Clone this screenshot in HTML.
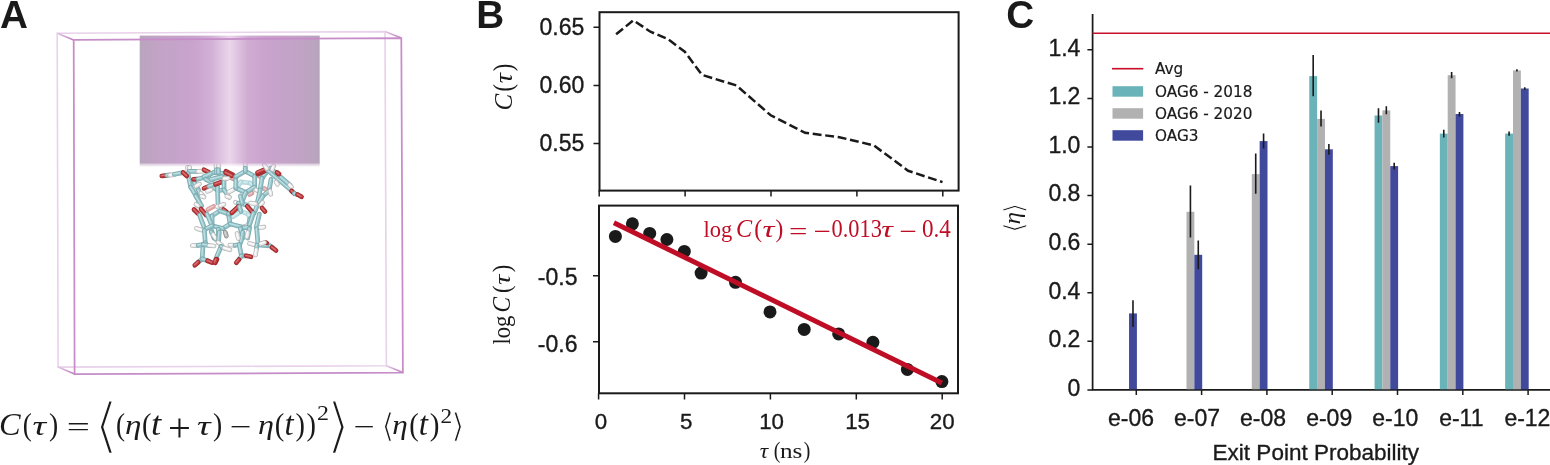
<!DOCTYPE html>
<html lang="en"><head><meta charset="utf-8"><title>Figure</title>
<style>html,body{margin:0;padding:0;background:#fff}body{width:1550px;height:465px;overflow:hidden}svg{display:block}</style>
</head><body>
<svg width="1550" height="465" viewBox="0 0 1550 465">
<defs>
<linearGradient id="cyl" x1="0" x2="1" y1="0" y2="0">
<stop offset="0" stop-color="#b9a5bd"/><stop offset="0.10" stop-color="#c2a3c6"/><stop offset="0.30" stop-color="#c9a4cd"/>
<stop offset="0.40" stop-color="#d3b1d6"/><stop offset="0.50" stop-color="#ead5eb"/><stop offset="0.60" stop-color="#d0acd3"/>
<stop offset="0.70" stop-color="#c9a3cd"/><stop offset="0.90" stop-color="#c0a3c5"/><stop offset="1" stop-color="#b7a5bc"/>
</linearGradient>
<filter id="soft" x="-5%" y="-5%" width="110%" height="110%"><feGaussianBlur stdDeviation="0.6"/></filter>
<linearGradient id="fade" x1="0" x2="0" y1="0" y2="1"><stop offset="0" stop-color="#fff" stop-opacity="0"/><stop offset="0.3" stop-color="#fff" stop-opacity="0.55"/><stop offset="1" stop-color="#fff" stop-opacity="1"/></linearGradient>
<filter id="soft2" x="-2%" y="-2%" width="104%" height="104%"><feGaussianBlur stdDeviation="0.45"/></filter>
<linearGradient id="mfade" gradientUnits="userSpaceOnUse" x1="0" x2="0" y1="163.2" y2="167"><stop offset="0" stop-color="#fff" stop-opacity="1"/><stop offset="0.3" stop-color="#fff" stop-opacity="0.5"/><stop offset="1" stop-color="#fff" stop-opacity="0"/></linearGradient>
<mask id="cylmask" maskUnits="userSpaceOnUse" x="130" y="30" width="200" height="140"><rect x="130" y="30" width="200" height="133.2" fill="#fff"/><rect x="130" y="163.2" width="200" height="3.8" fill="url(#mfade)"/></mask>
</defs>
<rect width="1550" height="465" fill="#fff"/>
<text x="0" y="27.9" font-family="Liberation Sans, Arial, Helvetica, sans-serif" font-weight="700" font-size="38.7" fill="#1a1a1a">A</text>
<text x="476.2" y="27.9" font-family="Liberation Sans, Arial, Helvetica, sans-serif" font-weight="700" font-size="38.7" fill="#1a1a1a">B</text>
<text x="1006.3" y="27.9" font-family="Liberation Sans, Arial, Helvetica, sans-serif" font-weight="700" font-size="38.7" fill="#1a1a1a">C</text>
<g id="panelA">
<g fill="none" stroke="#e8d1ea" stroke-width="1.6" filter="url(#soft2)">
<polygon points="57.2,33.3 385,31.6 386.4,365.8 58.1,367.1"/>
</g>
<g id="molecule" stroke-linecap="round" fill="none" filter="url(#soft)">
<path d="M241.0,182.0 L250.0,183.0" stroke="#a9d2d6" stroke-width="4.7"/><path d="M241.0,182.0 L250.0,183.0" stroke="#bcdfe3" stroke-width="3.2"/><path d="M241.0,182.0 L250.0,183.0" stroke="#d9eff1" stroke-width="1.3" transform="translate(-0.4,-0.4)"/>
<path d="M250.0,183.0 L254.7,187.1" stroke="#a9d2d6" stroke-width="4.7"/><path d="M250.0,183.0 L254.7,187.1" stroke="#bcdfe3" stroke-width="3.2"/><path d="M250.0,183.0 L254.7,187.1" stroke="#d9eff1" stroke-width="1.3" transform="translate(-0.4,-0.4)"/>
<path d="M241.0,182.0 L238.0,186.0" stroke="#a9d2d6" stroke-width="4.7"/><path d="M241.0,182.0 L238.0,186.0" stroke="#bcdfe3" stroke-width="3.2"/><path d="M241.0,182.0 L238.0,186.0" stroke="#d9eff1" stroke-width="1.3" transform="translate(-0.4,-0.4)"/>
<path d="M232.9,216.8 L241.0,211.4" stroke="#a9d2d6" stroke-width="4.7"/><path d="M232.9,216.8 L241.0,211.4" stroke="#bcdfe3" stroke-width="3.2"/><path d="M232.9,216.8 L241.0,211.4" stroke="#d9eff1" stroke-width="1.3" transform="translate(-0.4,-0.4)"/>
<path d="M241.0,211.4 L248.2,214.1" stroke="#a9d2d6" stroke-width="4.7"/><path d="M241.0,211.4 L248.2,214.1" stroke="#bcdfe3" stroke-width="3.2"/><path d="M241.0,211.4 L248.2,214.1" stroke="#d9eff1" stroke-width="1.3" transform="translate(-0.4,-0.4)"/>
<path d="M248.2,214.1 L250.0,218.6" stroke="#a9d2d6" stroke-width="4.7"/><path d="M248.2,214.1 L250.0,218.6" stroke="#bcdfe3" stroke-width="3.2"/><path d="M248.2,214.1 L250.0,218.6" stroke="#d9eff1" stroke-width="1.3" transform="translate(-0.4,-0.4)"/>
<path d="M228.5,176.3 L233.5,178.8" stroke="#cf9496" stroke-width="4.7"/><path d="M228.5,176.3 L233.5,178.8" stroke="#dda6a6" stroke-width="3.2"/><path d="M228.5,176.3 L233.5,178.8" stroke="#efcaca" stroke-width="1.3" transform="translate(-0.4,-0.4)"/>
<path d="M259.0,176.0 L263.0,177.5" stroke="#cf9496" stroke-width="4.7"/><path d="M259.0,176.0 L263.0,177.5" stroke="#dda6a6" stroke-width="3.2"/><path d="M259.0,176.0 L263.0,177.5" stroke="#efcaca" stroke-width="1.3" transform="translate(-0.4,-0.4)"/>
<path d="M249.5,194.5 L252.0,193.2" stroke="#cf9496" stroke-width="4.7"/><path d="M249.5,194.5 L252.0,193.2" stroke="#dda6a6" stroke-width="3.2"/><path d="M249.5,194.5 L252.0,193.2" stroke="#efcaca" stroke-width="1.3" transform="translate(-0.4,-0.4)"/>
<path d="M264.3,188.5 L266.5,190.3" stroke="#cf9496" stroke-width="4.7"/><path d="M264.3,188.5 L266.5,190.3" stroke="#dda6a6" stroke-width="3.2"/><path d="M264.3,188.5 L266.5,190.3" stroke="#efcaca" stroke-width="1.3" transform="translate(-0.4,-0.4)"/>
<path d="M208.0,209.5 L213.5,206.5" stroke="#cf9496" stroke-width="4.7"/><path d="M208.0,209.5 L213.5,206.5" stroke="#dda6a6" stroke-width="3.2"/><path d="M208.0,209.5 L213.5,206.5" stroke="#efcaca" stroke-width="1.3" transform="translate(-0.4,-0.4)"/>
<path d="M161.8,176.0 L166.8,175.3" stroke="#99292d" stroke-width="4.7"/><path d="M161.8,176.0 L166.8,175.3" stroke="#c0383c" stroke-width="3.2"/><path d="M161.8,176.0 L166.8,175.3" stroke="#d87472" stroke-width="1.3" transform="translate(-0.4,-0.4)"/>
<path d="M166.8,175.3 L169.8,174.9" stroke="#7aa9af" stroke-width="4.7"/><path d="M166.8,175.3 L169.8,174.9" stroke="#93c3c8" stroke-width="3.2"/><path d="M166.8,175.3 L169.8,174.9" stroke="#bee0e3" stroke-width="1.3" transform="translate(-0.4,-0.4)"/>
<path d="M169.8,175.2 L174.4,174.6" stroke="#b4b4b4" stroke-width="4.7"/><path d="M169.8,175.2 L174.4,174.6" stroke="#ebebeb" stroke-width="3.2"/><path d="M169.8,175.2 L174.4,174.6" stroke="#fdfdfd" stroke-width="1.3" transform="translate(-0.4,-0.4)"/>
<path d="M174.4,174.2 L183.0,172.6" stroke="#7aa9af" stroke-width="4.7"/><path d="M174.4,174.2 L183.0,172.6" stroke="#93c3c8" stroke-width="3.2"/><path d="M174.4,174.2 L183.0,172.6" stroke="#bee0e3" stroke-width="1.3" transform="translate(-0.4,-0.4)"/>
<path d="M187.6,167.3 L187.9,171.5" stroke="#b4b4b4" stroke-width="4.7"/><path d="M187.6,167.3 L187.9,171.5" stroke="#ebebeb" stroke-width="3.2"/><path d="M187.6,167.3 L187.9,171.5" stroke="#fdfdfd" stroke-width="1.3" transform="translate(-0.4,-0.4)"/>
<path d="M189.6,167.3 L189.3,171.5" stroke="#b4b4b4" stroke-width="4.7"/><path d="M189.6,167.3 L189.3,171.5" stroke="#ebebeb" stroke-width="3.2"/><path d="M189.6,167.3 L189.3,171.5" stroke="#fdfdfd" stroke-width="1.3" transform="translate(-0.4,-0.4)"/>
<path d="M189.0,171.4 L197.5,171.3" stroke="#7aa9af" stroke-width="4.7"/><path d="M189.0,171.4 L197.5,171.3" stroke="#93c3c8" stroke-width="3.2"/><path d="M189.0,171.4 L197.5,171.3" stroke="#bee0e3" stroke-width="1.3" transform="translate(-0.4,-0.4)"/>
<path d="M197.9,171.3 L203.0,171.2" stroke="#b4b4b4" stroke-width="4.7"/><path d="M197.9,171.3 L203.0,171.2" stroke="#ebebeb" stroke-width="3.2"/><path d="M197.9,171.3 L203.0,171.2" stroke="#fdfdfd" stroke-width="1.3" transform="translate(-0.4,-0.4)"/>
<path d="M204.0,169.8 L209.0,172.3" stroke="#99292d" stroke-width="4.7"/><path d="M204.0,169.8 L209.0,172.3" stroke="#c0383c" stroke-width="3.2"/><path d="M204.0,169.8 L209.0,172.3" stroke="#d87472" stroke-width="1.3" transform="translate(-0.4,-0.4)"/>
<path d="M188.0,173.6 L190.7,187.1" stroke="#7aa9af" stroke-width="4.7"/><path d="M188.0,173.6 L190.7,187.1" stroke="#93c3c8" stroke-width="3.2"/><path d="M188.0,173.6 L190.7,187.1" stroke="#bee0e3" stroke-width="1.3" transform="translate(-0.4,-0.4)"/>
<path d="M183.0,172.5 L186.8,176.0" stroke="#99292d" stroke-width="4.7"/><path d="M183.0,172.5 L186.8,176.0" stroke="#c0383c" stroke-width="3.2"/><path d="M183.0,172.5 L186.8,176.0" stroke="#d87472" stroke-width="1.3" transform="translate(-0.4,-0.4)"/>
<path d="M190.7,187.1 L195.7,195.2" stroke="#7aa9af" stroke-width="4.7"/><path d="M190.7,187.1 L195.7,195.2" stroke="#93c3c8" stroke-width="3.2"/><path d="M190.7,187.1 L195.7,195.2" stroke="#bee0e3" stroke-width="1.3" transform="translate(-0.4,-0.4)"/>
<path d="M195.7,195.2 L199.3,201.6" stroke="#7aa9af" stroke-width="4.7"/><path d="M195.7,195.2 L199.3,201.6" stroke="#93c3c8" stroke-width="3.2"/><path d="M195.7,195.2 L199.3,201.6" stroke="#bee0e3" stroke-width="1.3" transform="translate(-0.4,-0.4)"/>
<path d="M192.9,179.9 L198.4,189.8" stroke="#7aa9af" stroke-width="4.7"/><path d="M192.9,179.9 L198.4,189.8" stroke="#93c3c8" stroke-width="3.2"/><path d="M192.9,179.9 L198.4,189.8" stroke="#bee0e3" stroke-width="1.3" transform="translate(-0.4,-0.4)"/>
<path d="M198.4,189.8 L200.2,195.2" stroke="#7aa9af" stroke-width="4.7"/><path d="M198.4,189.8 L200.2,195.2" stroke="#93c3c8" stroke-width="3.2"/><path d="M198.4,189.8 L200.2,195.2" stroke="#bee0e3" stroke-width="1.3" transform="translate(-0.4,-0.4)"/>
<path d="M193.5,179.3 L197.5,179.0" stroke="#99292d" stroke-width="4.7"/><path d="M193.5,179.3 L197.5,179.0" stroke="#c0383c" stroke-width="3.2"/><path d="M193.5,179.3 L197.5,179.0" stroke="#d87472" stroke-width="1.3" transform="translate(-0.4,-0.4)"/>
<path d="M197.9,179.0 L205.6,177.2" stroke="#7aa9af" stroke-width="4.7"/><path d="M197.9,179.0 L205.6,177.2" stroke="#93c3c8" stroke-width="3.2"/><path d="M197.9,179.0 L205.6,177.2" stroke="#bee0e3" stroke-width="1.3" transform="translate(-0.4,-0.4)"/>
<path d="M205.6,177.2 L211.0,173.6" stroke="#7aa9af" stroke-width="4.7"/><path d="M205.6,177.2 L211.0,173.6" stroke="#93c3c8" stroke-width="3.2"/><path d="M205.6,177.2 L211.0,173.6" stroke="#bee0e3" stroke-width="1.3" transform="translate(-0.4,-0.4)"/>
<path d="M203.8,176.7 L213.7,172.6" stroke="#7aa9af" stroke-width="4.7"/><path d="M203.8,176.7 L213.7,172.6" stroke="#93c3c8" stroke-width="3.2"/><path d="M203.8,176.7 L213.7,172.6" stroke="#bee0e3" stroke-width="1.3" transform="translate(-0.4,-0.4)"/>
<path d="M213.7,172.6 L225.0,173.6" stroke="#7aa9af" stroke-width="4.7"/><path d="M213.7,172.6 L225.0,173.6" stroke="#93c3c8" stroke-width="3.2"/><path d="M213.7,172.6 L225.0,173.6" stroke="#bee0e3" stroke-width="1.3" transform="translate(-0.4,-0.4)"/>
<path d="M205.6,179.4 L212.8,183.0" stroke="#7aa9af" stroke-width="4.7"/><path d="M205.6,179.4 L212.8,183.0" stroke="#93c3c8" stroke-width="3.2"/><path d="M205.6,179.4 L212.8,183.0" stroke="#bee0e3" stroke-width="1.3" transform="translate(-0.4,-0.4)"/>
<path d="M211.0,179.4 L221.8,176.7" stroke="#7aa9af" stroke-width="4.7"/><path d="M211.0,179.4 L221.8,176.7" stroke="#93c3c8" stroke-width="3.2"/><path d="M211.0,179.4 L221.8,176.7" stroke="#bee0e3" stroke-width="1.3" transform="translate(-0.4,-0.4)"/>
<path d="M212.8,187.1 L218.2,190.7" stroke="#7aa9af" stroke-width="4.7"/><path d="M212.8,187.1 L218.2,190.7" stroke="#93c3c8" stroke-width="3.2"/><path d="M212.8,187.1 L218.2,190.7" stroke="#bee0e3" stroke-width="1.3" transform="translate(-0.4,-0.4)"/>
<path d="M218.2,190.7 L224.0,189.8" stroke="#7aa9af" stroke-width="4.7"/><path d="M218.2,190.7 L224.0,189.8" stroke="#93c3c8" stroke-width="3.2"/><path d="M218.2,190.7 L224.0,189.8" stroke="#bee0e3" stroke-width="1.3" transform="translate(-0.4,-0.4)"/>
<path d="M217.5,186.5 L218.0,204.0" stroke="#7aa9af" stroke-width="4.7"/><path d="M217.5,186.5 L218.0,204.0" stroke="#93c3c8" stroke-width="3.2"/><path d="M217.5,186.5 L218.0,204.0" stroke="#bee0e3" stroke-width="1.3" transform="translate(-0.4,-0.4)"/>
<path d="M204.0,188.3 L208.8,186.3" stroke="#99292d" stroke-width="4.7"/><path d="M204.0,188.3 L208.8,186.3" stroke="#c0383c" stroke-width="3.2"/><path d="M204.0,188.3 L208.8,186.3" stroke="#d87472" stroke-width="1.3" transform="translate(-0.4,-0.4)"/>
<path d="M208.8,186.3 L215.5,184.3" stroke="#7aa9af" stroke-width="4.7"/><path d="M208.8,186.3 L215.5,184.3" stroke="#93c3c8" stroke-width="3.2"/><path d="M208.8,186.3 L215.5,184.3" stroke="#bee0e3" stroke-width="1.3" transform="translate(-0.4,-0.4)"/>
<path d="M215.5,184.3 L221.0,182.2" stroke="#99292d" stroke-width="4.7"/><path d="M215.5,184.3 L221.0,182.2" stroke="#c0383c" stroke-width="3.2"/><path d="M215.5,184.3 L221.0,182.2" stroke="#d87472" stroke-width="1.3" transform="translate(-0.4,-0.4)"/>
<path d="M196.0,186.2 L199.5,184.0" stroke="#b4b4b4" stroke-width="4.7"/><path d="M196.0,186.2 L199.5,184.0" stroke="#ebebeb" stroke-width="3.2"/><path d="M196.0,186.2 L199.5,184.0" stroke="#fdfdfd" stroke-width="1.3" transform="translate(-0.4,-0.4)"/>
<path d="M207.5,191.3 L211.0,189.8" stroke="#b4b4b4" stroke-width="4.7"/><path d="M207.5,191.3 L211.0,189.8" stroke="#ebebeb" stroke-width="3.2"/><path d="M207.5,191.3 L211.0,189.8" stroke="#fdfdfd" stroke-width="1.3" transform="translate(-0.4,-0.4)"/>
<path d="M201.0,193.3 L203.3,196.0" stroke="#b4b4b4" stroke-width="4.7"/><path d="M201.0,193.3 L203.3,196.0" stroke="#ebebeb" stroke-width="3.2"/><path d="M201.0,193.3 L203.3,196.0" stroke="#fdfdfd" stroke-width="1.3" transform="translate(-0.4,-0.4)"/>
<path d="M216.0,164.3 L216.3,169.5" stroke="#b4b4b4" stroke-width="4.7"/><path d="M216.0,164.3 L216.3,169.5" stroke="#ebebeb" stroke-width="3.2"/><path d="M216.0,164.3 L216.3,169.5" stroke="#fdfdfd" stroke-width="1.3" transform="translate(-0.4,-0.4)"/>
<path d="M218.8,164.3 L218.6,169.5" stroke="#b4b4b4" stroke-width="4.7"/><path d="M218.8,164.3 L218.6,169.5" stroke="#ebebeb" stroke-width="3.2"/><path d="M218.8,164.3 L218.6,169.5" stroke="#fdfdfd" stroke-width="1.3" transform="translate(-0.4,-0.4)"/>
<path d="M216.3,169.5 L216.5,172.8" stroke="#7aa9af" stroke-width="4.7"/><path d="M216.3,169.5 L216.5,172.8" stroke="#93c3c8" stroke-width="3.2"/><path d="M216.3,169.5 L216.5,172.8" stroke="#bee0e3" stroke-width="1.3" transform="translate(-0.4,-0.4)"/>
<path d="M218.6,169.5 L218.5,172.8" stroke="#7aa9af" stroke-width="4.7"/><path d="M218.6,169.5 L218.5,172.8" stroke="#93c3c8" stroke-width="3.2"/><path d="M218.6,169.5 L218.5,172.8" stroke="#bee0e3" stroke-width="1.3" transform="translate(-0.4,-0.4)"/>
<path d="M224.0,179.4 L224.0,189.8" stroke="#7aa9af" stroke-width="4.7"/><path d="M224.0,179.4 L224.0,189.8" stroke="#93c3c8" stroke-width="3.2"/><path d="M224.0,179.4 L224.0,189.8" stroke="#bee0e3" stroke-width="1.3" transform="translate(-0.4,-0.4)"/>
<path d="M224.0,189.8 L227.6,194.8" stroke="#7aa9af" stroke-width="4.7"/><path d="M224.0,189.8 L227.6,194.8" stroke="#93c3c8" stroke-width="3.2"/><path d="M224.0,189.8 L227.6,194.8" stroke="#bee0e3" stroke-width="1.3" transform="translate(-0.4,-0.4)"/>
<path d="M226.0,171.3 L233.0,174.8" stroke="#99292d" stroke-width="4.7"/><path d="M226.0,171.3 L233.0,174.8" stroke="#c0383c" stroke-width="3.2"/><path d="M226.0,171.3 L233.0,174.8" stroke="#d87472" stroke-width="1.3" transform="translate(-0.4,-0.4)"/>
<path d="M225.5,172.6 L232.0,175.8" stroke="#99292d" stroke-width="4.7"/><path d="M225.5,172.6 L232.0,175.8" stroke="#c0383c" stroke-width="3.2"/><path d="M225.5,172.6 L232.0,175.8" stroke="#d87472" stroke-width="1.3" transform="translate(-0.4,-0.4)"/>
<path d="M224.0,178.7 L228.0,178.3" stroke="#b4b4b4" stroke-width="4.7"/><path d="M224.0,178.7 L228.0,178.3" stroke="#ebebeb" stroke-width="3.2"/><path d="M224.0,178.7 L228.0,178.3" stroke="#fdfdfd" stroke-width="1.3" transform="translate(-0.4,-0.4)"/>
<path d="M227.5,195.0 L229.0,197.2" stroke="#b4b4b4" stroke-width="4.7"/><path d="M227.5,195.0 L229.0,197.2" stroke="#ebebeb" stroke-width="3.2"/><path d="M227.5,195.0 L229.0,197.2" stroke="#fdfdfd" stroke-width="1.3" transform="translate(-0.4,-0.4)"/>
<path d="M229.0,191.8 L233.5,189.6" stroke="#b4b4b4" stroke-width="4.7"/><path d="M229.0,191.8 L233.5,189.6" stroke="#ebebeb" stroke-width="3.2"/><path d="M229.0,191.8 L233.5,189.6" stroke="#fdfdfd" stroke-width="1.3" transform="translate(-0.4,-0.4)"/>
<path d="M245.3,171.3 L254.7,176.3" stroke="#7aa9af" stroke-width="4.7"/><path d="M245.3,171.3 L254.7,176.3" stroke="#93c3c8" stroke-width="3.2"/><path d="M245.3,171.3 L254.7,176.3" stroke="#bee0e3" stroke-width="1.3" transform="translate(-0.4,-0.4)"/>
<path d="M254.7,176.3 L254.7,187.1" stroke="#7aa9af" stroke-width="4.7"/><path d="M254.7,176.3 L254.7,187.1" stroke="#93c3c8" stroke-width="3.2"/><path d="M254.7,176.3 L254.7,187.1" stroke="#bee0e3" stroke-width="1.3" transform="translate(-0.4,-0.4)"/>
<path d="M254.7,187.1 L245.7,192.5" stroke="#7aa9af" stroke-width="4.7"/><path d="M254.7,187.1 L245.7,192.5" stroke="#93c3c8" stroke-width="3.2"/><path d="M254.7,187.1 L245.7,192.5" stroke="#bee0e3" stroke-width="1.3" transform="translate(-0.4,-0.4)"/>
<path d="M245.7,192.5 L235.8,188.0" stroke="#7aa9af" stroke-width="4.7"/><path d="M245.7,192.5 L235.8,188.0" stroke="#93c3c8" stroke-width="3.2"/><path d="M245.7,192.5 L235.8,188.0" stroke="#bee0e3" stroke-width="1.3" transform="translate(-0.4,-0.4)"/>
<path d="M235.8,188.0 L235.8,176.7" stroke="#7aa9af" stroke-width="4.7"/><path d="M235.8,188.0 L235.8,176.7" stroke="#93c3c8" stroke-width="3.2"/><path d="M235.8,188.0 L235.8,176.7" stroke="#bee0e3" stroke-width="1.3" transform="translate(-0.4,-0.4)"/>
<path d="M235.8,176.7 L245.3,171.3" stroke="#7aa9af" stroke-width="4.7"/><path d="M235.8,176.7 L245.3,171.3" stroke="#93c3c8" stroke-width="3.2"/><path d="M235.8,176.7 L245.3,171.3" stroke="#bee0e3" stroke-width="1.3" transform="translate(-0.4,-0.4)"/>
<path d="M245.3,163.8 L245.3,168.0" stroke="#b4b4b4" stroke-width="4.7"/><path d="M245.3,163.8 L245.3,168.0" stroke="#ebebeb" stroke-width="3.2"/><path d="M245.3,163.8 L245.3,168.0" stroke="#fdfdfd" stroke-width="1.3" transform="translate(-0.4,-0.4)"/>
<path d="M245.3,168.0 L245.3,171.3" stroke="#7aa9af" stroke-width="4.7"/><path d="M245.3,168.0 L245.3,171.3" stroke="#93c3c8" stroke-width="3.2"/><path d="M245.3,168.0 L245.3,171.3" stroke="#bee0e3" stroke-width="1.3" transform="translate(-0.4,-0.4)"/>
<path d="M245.7,192.5 L242.1,202.0" stroke="#7aa9af" stroke-width="4.7"/><path d="M245.7,192.5 L242.1,202.0" stroke="#93c3c8" stroke-width="3.2"/><path d="M245.7,192.5 L242.1,202.0" stroke="#bee0e3" stroke-width="1.3" transform="translate(-0.4,-0.4)"/>
<path d="M256.0,189.8 L259.5,191.6" stroke="#b4b4b4" stroke-width="4.7"/><path d="M256.0,189.8 L259.5,191.6" stroke="#ebebeb" stroke-width="3.2"/><path d="M256.0,189.8 L259.5,191.6" stroke="#fdfdfd" stroke-width="1.3" transform="translate(-0.4,-0.4)"/>
<path d="M262.0,178.1 L267.0,171.7" stroke="#7aa9af" stroke-width="4.7"/><path d="M262.0,178.1 L267.0,171.7" stroke="#93c3c8" stroke-width="3.2"/><path d="M262.0,178.1 L267.0,171.7" stroke="#bee0e3" stroke-width="1.3" transform="translate(-0.4,-0.4)"/>
<path d="M262.0,178.1 L260.2,189.8" stroke="#7aa9af" stroke-width="4.7"/><path d="M262.0,178.1 L260.2,189.8" stroke="#93c3c8" stroke-width="3.2"/><path d="M262.0,178.1 L260.2,189.8" stroke="#bee0e3" stroke-width="1.3" transform="translate(-0.4,-0.4)"/>
<path d="M260.2,189.8 L257.5,202.0" stroke="#7aa9af" stroke-width="4.7"/><path d="M260.2,189.8 L257.5,202.0" stroke="#93c3c8" stroke-width="3.2"/><path d="M260.2,189.8 L257.5,202.0" stroke="#bee0e3" stroke-width="1.3" transform="translate(-0.4,-0.4)"/>
<path d="M271.0,179.4 L269.2,189.8" stroke="#7aa9af" stroke-width="4.7"/><path d="M271.0,179.4 L269.2,189.8" stroke="#93c3c8" stroke-width="3.2"/><path d="M271.0,179.4 L269.2,189.8" stroke="#bee0e3" stroke-width="1.3" transform="translate(-0.4,-0.4)"/>
<path d="M263.8,195.2 L269.2,190.7" stroke="#7aa9af" stroke-width="4.7"/><path d="M263.8,195.2 L269.2,190.7" stroke="#93c3c8" stroke-width="3.2"/><path d="M263.8,195.2 L269.2,190.7" stroke="#bee0e3" stroke-width="1.3" transform="translate(-0.4,-0.4)"/>
<path d="M270.0,191.0 L270.8,194.3" stroke="#b4b4b4" stroke-width="4.7"/><path d="M270.0,191.0 L270.8,194.3" stroke="#ebebeb" stroke-width="3.2"/><path d="M270.0,191.0 L270.8,194.3" stroke="#fdfdfd" stroke-width="1.3" transform="translate(-0.4,-0.4)"/>
<path d="M258.0,174.0 L265.5,170.5" stroke="#99292d" stroke-width="4.7"/><path d="M258.0,174.0 L265.5,170.5" stroke="#c0383c" stroke-width="3.2"/><path d="M258.0,174.0 L265.5,170.5" stroke="#d87472" stroke-width="1.3" transform="translate(-0.4,-0.4)"/>
<path d="M257.5,172.6 L264.5,169.6" stroke="#99292d" stroke-width="4.7"/><path d="M257.5,172.6 L264.5,169.6" stroke="#c0383c" stroke-width="3.2"/><path d="M257.5,172.6 L264.5,169.6" stroke="#d87472" stroke-width="1.3" transform="translate(-0.4,-0.4)"/>
<path d="M267.0,169.8 L292.0,191.0" stroke="#7aa9af" stroke-width="4.7"/><path d="M267.0,169.8 L292.0,191.0" stroke="#93c3c8" stroke-width="3.2"/><path d="M267.0,169.8 L292.0,191.0" stroke="#bee0e3" stroke-width="1.3" transform="translate(-0.4,-0.4)"/>
<path d="M270.5,168.3 L290.2,185.3" stroke="#7aa9af" stroke-width="4.7"/><path d="M270.5,168.3 L290.2,185.3" stroke="#93c3c8" stroke-width="3.2"/><path d="M270.5,168.3 L290.2,185.3" stroke="#bee0e3" stroke-width="1.3" transform="translate(-0.4,-0.4)"/>
<path d="M277.0,172.5 L279.0,174.0" stroke="#99292d" stroke-width="4.7"/><path d="M277.0,172.5 L279.0,174.0" stroke="#c0383c" stroke-width="3.2"/><path d="M277.0,172.5 L279.0,174.0" stroke="#d87472" stroke-width="1.3" transform="translate(-0.4,-0.4)"/>
<path d="M276.0,182.0 L277.5,184.3" stroke="#b4b4b4" stroke-width="4.7"/><path d="M276.0,182.0 L277.5,184.3" stroke="#ebebeb" stroke-width="3.2"/><path d="M276.0,182.0 L277.5,184.3" stroke="#fdfdfd" stroke-width="1.3" transform="translate(-0.4,-0.4)"/>
<path d="M289.5,184.8 L291.5,186.8" stroke="#b4b4b4" stroke-width="4.7"/><path d="M289.5,184.8 L291.5,186.8" stroke="#ebebeb" stroke-width="3.2"/><path d="M289.5,184.8 L291.5,186.8" stroke="#fdfdfd" stroke-width="1.3" transform="translate(-0.4,-0.4)"/>
<path d="M291.5,191.0 L294.3,193.5" stroke="#99292d" stroke-width="4.7"/><path d="M291.5,191.0 L294.3,193.5" stroke="#c0383c" stroke-width="3.2"/><path d="M291.5,191.0 L294.3,193.5" stroke="#d87472" stroke-width="1.3" transform="translate(-0.4,-0.4)"/>
<path d="M294.3,193.5 L297.0,194.6" stroke="#7aa9af" stroke-width="4.7"/><path d="M294.3,193.5 L297.0,194.6" stroke="#93c3c8" stroke-width="3.2"/><path d="M294.3,193.5 L297.0,194.6" stroke="#bee0e3" stroke-width="1.3" transform="translate(-0.4,-0.4)"/>
<path d="M297.5,194.5 L301.5,196.8" stroke="#99292d" stroke-width="4.7"/><path d="M297.5,194.5 L301.5,196.8" stroke="#c0383c" stroke-width="3.2"/><path d="M297.5,194.5 L301.5,196.8" stroke="#d87472" stroke-width="1.3" transform="translate(-0.4,-0.4)"/>
<path d="M264.3,165.0 L266.8,168.5" stroke="#b4b4b4" stroke-width="4.7"/><path d="M264.3,165.0 L266.8,168.5" stroke="#ebebeb" stroke-width="3.2"/><path d="M264.3,165.0 L266.8,168.5" stroke="#fdfdfd" stroke-width="1.3" transform="translate(-0.4,-0.4)"/>
<path d="M273.6,165.8 L272.3,169.5" stroke="#b4b4b4" stroke-width="4.7"/><path d="M273.6,165.8 L272.3,169.5" stroke="#ebebeb" stroke-width="3.2"/><path d="M273.6,165.8 L272.3,169.5" stroke="#fdfdfd" stroke-width="1.3" transform="translate(-0.4,-0.4)"/>
<path d="M195.8,196.0 L201.7,205.9" stroke="#7aa9af" stroke-width="4.7"/><path d="M195.8,196.0 L201.7,205.9" stroke="#93c3c8" stroke-width="3.2"/><path d="M195.8,196.0 L201.7,205.9" stroke="#bee0e3" stroke-width="1.3" transform="translate(-0.4,-0.4)"/>
<path d="M196.0,204.3 L198.0,205.8" stroke="#b4b4b4" stroke-width="4.7"/><path d="M196.0,204.3 L198.0,205.8" stroke="#ebebeb" stroke-width="3.2"/><path d="M196.0,204.3 L198.0,205.8" stroke="#fdfdfd" stroke-width="1.3" transform="translate(-0.4,-0.4)"/>
<path d="M217.0,206.5 L220.5,205.5" stroke="#b4b4b4" stroke-width="4.7"/><path d="M217.0,206.5 L220.5,205.5" stroke="#ebebeb" stroke-width="3.2"/><path d="M217.0,206.5 L220.5,205.5" stroke="#fdfdfd" stroke-width="1.3" transform="translate(-0.4,-0.4)"/>
<path d="M220.5,205.5 L224.0,204.3" stroke="#b4b4b4" stroke-width="4.7"/><path d="M220.5,205.5 L224.0,204.3" stroke="#ebebeb" stroke-width="3.2"/><path d="M220.5,205.5 L224.0,204.3" stroke="#fdfdfd" stroke-width="1.3" transform="translate(-0.4,-0.4)"/>
<path d="M194.0,209.5 L198.0,213.5" stroke="#99292d" stroke-width="4.7"/><path d="M194.0,209.5 L198.0,213.5" stroke="#c0383c" stroke-width="3.2"/><path d="M194.0,209.5 L198.0,213.5" stroke="#d87472" stroke-width="1.3" transform="translate(-0.4,-0.4)"/>
<path d="M201.0,209.0 L206.0,215.0" stroke="#99292d" stroke-width="4.7"/><path d="M201.0,209.0 L206.0,215.0" stroke="#c0383c" stroke-width="3.2"/><path d="M201.0,209.0 L206.0,215.0" stroke="#d87472" stroke-width="1.3" transform="translate(-0.4,-0.4)"/>
<path d="M223.5,209.5 L226.8,212.0" stroke="#99292d" stroke-width="4.7"/><path d="M223.5,209.5 L226.8,212.0" stroke="#c0383c" stroke-width="3.2"/><path d="M223.5,209.5 L226.8,212.0" stroke="#d87472" stroke-width="1.3" transform="translate(-0.4,-0.4)"/>
<path d="M235.5,202.3 L238.0,203.5" stroke="#b4b4b4" stroke-width="4.7"/><path d="M235.5,202.3 L238.0,203.5" stroke="#ebebeb" stroke-width="3.2"/><path d="M235.5,202.3 L238.0,203.5" stroke="#fdfdfd" stroke-width="1.3" transform="translate(-0.4,-0.4)"/>
<path d="M238.3,203.2 L247.3,205.0" stroke="#7aa9af" stroke-width="4.7"/><path d="M238.3,203.2 L247.3,205.0" stroke="#93c3c8" stroke-width="3.2"/><path d="M238.3,203.2 L247.3,205.0" stroke="#bee0e3" stroke-width="1.3" transform="translate(-0.4,-0.4)"/>
<path d="M240.4,196.0 L242.2,203.2" stroke="#7aa9af" stroke-width="4.7"/><path d="M240.4,196.0 L242.2,203.2" stroke="#93c3c8" stroke-width="3.2"/><path d="M240.4,196.0 L242.2,203.2" stroke="#bee0e3" stroke-width="1.3" transform="translate(-0.4,-0.4)"/>
<path d="M263.0,196.0 L257.6,205.0" stroke="#7aa9af" stroke-width="4.7"/><path d="M263.0,196.0 L257.6,205.0" stroke="#93c3c8" stroke-width="3.2"/><path d="M263.0,196.0 L257.6,205.0" stroke="#bee0e3" stroke-width="1.3" transform="translate(-0.4,-0.4)"/>
<path d="M257.6,205.0 L254.0,213.2" stroke="#7aa9af" stroke-width="4.7"/><path d="M257.6,205.0 L254.0,213.2" stroke="#93c3c8" stroke-width="3.2"/><path d="M257.6,205.0 L254.0,213.2" stroke="#bee0e3" stroke-width="1.3" transform="translate(-0.4,-0.4)"/>
<path d="M247.3,206.2 L252.5,212.3" stroke="#99292d" stroke-width="4.7"/><path d="M247.3,206.2 L252.5,212.3" stroke="#c0383c" stroke-width="3.2"/><path d="M247.3,206.2 L252.5,212.3" stroke="#d87472" stroke-width="1.3" transform="translate(-0.4,-0.4)"/>
<path d="M250.5,203.0 L255.5,203.8" stroke="#b4b4b4" stroke-width="4.7"/><path d="M250.5,203.0 L255.5,203.8" stroke="#ebebeb" stroke-width="3.2"/><path d="M250.5,203.0 L255.5,203.8" stroke="#fdfdfd" stroke-width="1.3" transform="translate(-0.4,-0.4)"/>
<path d="M260.7,205.0 L262.6,202.5" stroke="#b4b4b4" stroke-width="4.7"/><path d="M260.7,205.0 L262.6,202.5" stroke="#ebebeb" stroke-width="3.2"/><path d="M260.7,205.0 L262.6,202.5" stroke="#fdfdfd" stroke-width="1.3" transform="translate(-0.4,-0.4)"/>
<path d="M262.0,208.0 L265.0,211.5" stroke="#99292d" stroke-width="4.7"/><path d="M262.0,208.0 L265.0,211.5" stroke="#c0383c" stroke-width="3.2"/><path d="M262.0,208.0 L265.0,211.5" stroke="#d87472" stroke-width="1.3" transform="translate(-0.4,-0.4)"/>
<path d="M226.8,196.5 L229.5,197.3" stroke="#b4b4b4" stroke-width="4.7"/><path d="M226.8,196.5 L229.5,197.3" stroke="#ebebeb" stroke-width="3.2"/><path d="M226.8,196.5 L229.5,197.3" stroke="#fdfdfd" stroke-width="1.3" transform="translate(-0.4,-0.4)"/>
<path d="M201.5,196.3 L204.0,197.0" stroke="#b4b4b4" stroke-width="4.7"/><path d="M201.5,196.3 L204.0,197.0" stroke="#ebebeb" stroke-width="3.2"/><path d="M201.5,196.3 L204.0,197.0" stroke="#fdfdfd" stroke-width="1.3" transform="translate(-0.4,-0.4)"/>
<path d="M212.1,215.9 L219.8,210.9" stroke="#7aa9af" stroke-width="4.7"/><path d="M212.1,215.9 L219.8,210.9" stroke="#93c3c8" stroke-width="3.2"/><path d="M212.1,215.9 L219.8,210.9" stroke="#bee0e3" stroke-width="1.3" transform="translate(-0.4,-0.4)"/>
<path d="M219.8,210.9 L228.4,214.1" stroke="#7aa9af" stroke-width="4.7"/><path d="M219.8,210.9 L228.4,214.1" stroke="#93c3c8" stroke-width="3.2"/><path d="M219.8,210.9 L228.4,214.1" stroke="#bee0e3" stroke-width="1.3" transform="translate(-0.4,-0.4)"/>
<path d="M228.4,214.1 L230.2,224.0" stroke="#7aa9af" stroke-width="4.7"/><path d="M228.4,214.1 L230.2,224.0" stroke="#93c3c8" stroke-width="3.2"/><path d="M228.4,214.1 L230.2,224.0" stroke="#bee0e3" stroke-width="1.3" transform="translate(-0.4,-0.4)"/>
<path d="M230.2,224.0 L222.9,228.5" stroke="#7aa9af" stroke-width="4.7"/><path d="M230.2,224.0 L222.9,228.5" stroke="#93c3c8" stroke-width="3.2"/><path d="M230.2,224.0 L222.9,228.5" stroke="#bee0e3" stroke-width="1.3" transform="translate(-0.4,-0.4)"/>
<path d="M222.9,228.5 L212.1,225.8" stroke="#7aa9af" stroke-width="4.7"/><path d="M222.9,228.5 L212.1,225.8" stroke="#93c3c8" stroke-width="3.2"/><path d="M222.9,228.5 L212.1,225.8" stroke="#bee0e3" stroke-width="1.3" transform="translate(-0.4,-0.4)"/>
<path d="M212.1,225.8 L212.1,215.9" stroke="#7aa9af" stroke-width="4.7"/><path d="M212.1,225.8 L212.1,215.9" stroke="#93c3c8" stroke-width="3.2"/><path d="M212.1,225.8 L212.1,215.9" stroke="#bee0e3" stroke-width="1.3" transform="translate(-0.4,-0.4)"/>
<path d="M228.4,214.1 L231.8,212.8" stroke="#7aa9af" stroke-width="4.7"/><path d="M228.4,214.1 L231.8,212.8" stroke="#93c3c8" stroke-width="3.2"/><path d="M228.4,214.1 L231.8,212.8" stroke="#bee0e3" stroke-width="1.3" transform="translate(-0.4,-0.4)"/>
<path d="M231.8,212.8 L238.8,206.3" stroke="#99292d" stroke-width="4.7"/><path d="M231.8,212.8 L238.8,206.3" stroke="#c0383c" stroke-width="3.2"/><path d="M231.8,212.8 L238.8,206.3" stroke="#d87472" stroke-width="1.3" transform="translate(-0.4,-0.4)"/>
<path d="M241.0,211.4 L239.5,206.5" stroke="#7aa9af" stroke-width="4.7"/><path d="M241.0,211.4 L239.5,206.5" stroke="#93c3c8" stroke-width="3.2"/><path d="M241.0,211.4 L239.5,206.5" stroke="#bee0e3" stroke-width="1.3" transform="translate(-0.4,-0.4)"/>
<path d="M230.2,224.0 L242.8,227.2" stroke="#7aa9af" stroke-width="4.7"/><path d="M230.2,224.0 L242.8,227.2" stroke="#93c3c8" stroke-width="3.2"/><path d="M230.2,224.0 L242.8,227.2" stroke="#bee0e3" stroke-width="1.3" transform="translate(-0.4,-0.4)"/>
<path d="M242.8,227.2 L248.2,226.7" stroke="#7aa9af" stroke-width="4.7"/><path d="M242.8,227.2 L248.2,226.7" stroke="#93c3c8" stroke-width="3.2"/><path d="M242.8,227.2 L248.2,226.7" stroke="#bee0e3" stroke-width="1.3" transform="translate(-0.4,-0.4)"/>
<path d="M250.0,218.6 L248.2,226.7" stroke="#7aa9af" stroke-width="4.7"/><path d="M250.0,218.6 L248.2,226.7" stroke="#93c3c8" stroke-width="3.2"/><path d="M250.0,218.6 L248.2,226.7" stroke="#bee0e3" stroke-width="1.3" transform="translate(-0.4,-0.4)"/>
<path d="M243.0,227.5 L246.5,226.0" stroke="#b4b4b4" stroke-width="4.7"/><path d="M243.0,227.5 L246.5,226.0" stroke="#ebebeb" stroke-width="3.2"/><path d="M243.0,227.5 L246.5,226.0" stroke="#fdfdfd" stroke-width="1.3" transform="translate(-0.4,-0.4)"/>
<path d="M199.5,215.0 L204.9,229.4" stroke="#7aa9af" stroke-width="4.7"/><path d="M199.5,215.0 L204.9,229.4" stroke="#93c3c8" stroke-width="3.2"/><path d="M199.5,215.0 L204.9,229.4" stroke="#bee0e3" stroke-width="1.3" transform="translate(-0.4,-0.4)"/>
<path d="M207.1,214.1 L212.1,225.8" stroke="#7aa9af" stroke-width="4.7"/><path d="M207.1,214.1 L212.1,225.8" stroke="#93c3c8" stroke-width="3.2"/><path d="M207.1,214.1 L212.1,225.8" stroke="#bee0e3" stroke-width="1.3" transform="translate(-0.4,-0.4)"/>
<path d="M204.9,229.4 L212.1,225.8" stroke="#7aa9af" stroke-width="4.7"/><path d="M204.9,229.4 L212.1,225.8" stroke="#93c3c8" stroke-width="3.2"/><path d="M204.9,229.4 L212.1,225.8" stroke="#bee0e3" stroke-width="1.3" transform="translate(-0.4,-0.4)"/>
<path d="M196.5,228.5 L201.5,230.0" stroke="#b4b4b4" stroke-width="4.7"/><path d="M196.5,228.5 L201.5,230.0" stroke="#ebebeb" stroke-width="3.2"/><path d="M196.5,228.5 L201.5,230.0" stroke="#fdfdfd" stroke-width="1.3" transform="translate(-0.4,-0.4)"/>
<path d="M211.6,230.3 L213.9,238.0" stroke="#7aa9af" stroke-width="4.7"/><path d="M211.6,230.3 L213.9,238.0" stroke="#93c3c8" stroke-width="3.2"/><path d="M211.6,230.3 L213.9,238.0" stroke="#bee0e3" stroke-width="1.3" transform="translate(-0.4,-0.4)"/>
<path d="M218.4,229.0 L218.4,238.0" stroke="#7aa9af" stroke-width="4.7"/><path d="M218.4,229.0 L218.4,238.0" stroke="#93c3c8" stroke-width="3.2"/><path d="M218.4,229.0 L218.4,238.0" stroke="#bee0e3" stroke-width="1.3" transform="translate(-0.4,-0.4)"/>
<path d="M253.5,213.2 L248.6,227.6" stroke="#7aa9af" stroke-width="4.7"/><path d="M253.5,213.2 L248.6,227.6" stroke="#93c3c8" stroke-width="3.2"/><path d="M253.5,213.2 L248.6,227.6" stroke="#bee0e3" stroke-width="1.3" transform="translate(-0.4,-0.4)"/>
<path d="M259.4,214.1 L256.2,227.6" stroke="#7aa9af" stroke-width="4.7"/><path d="M259.4,214.1 L256.2,227.6" stroke="#93c3c8" stroke-width="3.2"/><path d="M259.4,214.1 L256.2,227.6" stroke="#bee0e3" stroke-width="1.3" transform="translate(-0.4,-0.4)"/>
<path d="M244.0,227.6 L249.5,227.6" stroke="#7aa9af" stroke-width="4.7"/><path d="M244.0,227.6 L249.5,227.6" stroke="#93c3c8" stroke-width="3.2"/><path d="M244.0,227.6 L249.5,227.6" stroke="#bee0e3" stroke-width="1.3" transform="translate(-0.4,-0.4)"/>
<path d="M259.5,227.8 L264.0,227.0" stroke="#b4b4b4" stroke-width="4.7"/><path d="M259.5,227.8 L264.0,227.0" stroke="#ebebeb" stroke-width="3.2"/><path d="M259.5,227.8 L264.0,227.0" stroke="#fdfdfd" stroke-width="1.3" transform="translate(-0.4,-0.4)"/>
<path d="M240.4,228.5 L243.1,238.0" stroke="#7aa9af" stroke-width="4.7"/><path d="M240.4,228.5 L243.1,238.0" stroke="#93c3c8" stroke-width="3.2"/><path d="M240.4,228.5 L243.1,238.0" stroke="#bee0e3" stroke-width="1.3" transform="translate(-0.4,-0.4)"/>
<path d="M249.5,228.5 L247.6,238.0" stroke="#7aa9af" stroke-width="4.7"/><path d="M249.5,228.5 L247.6,238.0" stroke="#93c3c8" stroke-width="3.2"/><path d="M249.5,228.5 L247.6,238.0" stroke="#bee0e3" stroke-width="1.3" transform="translate(-0.4,-0.4)"/>
<path d="M204.4,230.3 L205.3,242.8" stroke="#7aa9af" stroke-width="4.7"/><path d="M204.4,230.3 L205.3,242.8" stroke="#93c3c8" stroke-width="3.2"/><path d="M204.4,230.3 L205.3,242.8" stroke="#bee0e3" stroke-width="1.3" transform="translate(-0.4,-0.4)"/>
<path d="M205.3,242.8 L203.1,244.6" stroke="#7aa9af" stroke-width="4.7"/><path d="M205.3,242.8 L203.1,244.6" stroke="#93c3c8" stroke-width="3.2"/><path d="M205.3,242.8 L203.1,244.6" stroke="#bee0e3" stroke-width="1.3" transform="translate(-0.4,-0.4)"/>
<path d="M203.1,244.6 L202.2,259.1" stroke="#7aa9af" stroke-width="4.7"/><path d="M203.1,244.6 L202.2,259.1" stroke="#93c3c8" stroke-width="3.2"/><path d="M203.1,244.6 L202.2,259.1" stroke="#bee0e3" stroke-width="1.3" transform="translate(-0.4,-0.4)"/>
<path d="M202.2,259.1 L198.2,262.2" stroke="#7aa9af" stroke-width="4.7"/><path d="M202.2,259.1 L198.2,262.2" stroke="#93c3c8" stroke-width="3.2"/><path d="M202.2,259.1 L198.2,262.2" stroke="#bee0e3" stroke-width="1.3" transform="translate(-0.4,-0.4)"/>
<path d="M198.2,262.2 L194.8,265.3" stroke="#99292d" stroke-width="4.7"/><path d="M198.2,262.2 L194.8,265.3" stroke="#c0383c" stroke-width="3.2"/><path d="M198.2,262.2 L194.8,265.3" stroke="#d87472" stroke-width="1.3" transform="translate(-0.4,-0.4)"/>
<path d="M202.2,259.1 L207.5,260.8" stroke="#7aa9af" stroke-width="4.7"/><path d="M202.2,259.1 L207.5,260.8" stroke="#93c3c8" stroke-width="3.2"/><path d="M202.2,259.1 L207.5,260.8" stroke="#bee0e3" stroke-width="1.3" transform="translate(-0.4,-0.4)"/>
<path d="M207.5,260.8 L212.0,262.6" stroke="#99292d" stroke-width="4.7"/><path d="M207.5,260.8 L212.0,262.6" stroke="#c0383c" stroke-width="3.2"/><path d="M207.5,260.8 L212.0,262.6" stroke="#d87472" stroke-width="1.3" transform="translate(-0.4,-0.4)"/>
<path d="M192.3,245.5 L198.0,245.3" stroke="#b4b4b4" stroke-width="4.7"/><path d="M192.3,245.5 L198.0,245.3" stroke="#ebebeb" stroke-width="3.2"/><path d="M192.3,245.5 L198.0,245.3" stroke="#fdfdfd" stroke-width="1.3" transform="translate(-0.4,-0.4)"/>
<path d="M198.0,245.3 L203.0,244.6" stroke="#7aa9af" stroke-width="4.7"/><path d="M198.0,245.3 L203.0,244.6" stroke="#93c3c8" stroke-width="3.2"/><path d="M198.0,245.3 L203.0,244.6" stroke="#bee0e3" stroke-width="1.3" transform="translate(-0.4,-0.4)"/>
<path d="M203.1,244.6 L209.0,245.5" stroke="#7aa9af" stroke-width="4.7"/><path d="M203.1,244.6 L209.0,245.5" stroke="#93c3c8" stroke-width="3.2"/><path d="M203.1,244.6 L209.0,245.5" stroke="#bee0e3" stroke-width="1.3" transform="translate(-0.4,-0.4)"/>
<path d="M209.0,245.5 L214.0,246.0" stroke="#b4b4b4" stroke-width="4.7"/><path d="M209.0,245.5 L214.0,246.0" stroke="#ebebeb" stroke-width="3.2"/><path d="M209.0,245.5 L214.0,246.0" stroke="#fdfdfd" stroke-width="1.3" transform="translate(-0.4,-0.4)"/>
<path d="M211.2,232.0 L215.7,239.2" stroke="#7aa9af" stroke-width="4.7"/><path d="M211.2,232.0 L215.7,239.2" stroke="#93c3c8" stroke-width="3.2"/><path d="M211.2,232.0 L215.7,239.2" stroke="#bee0e3" stroke-width="1.3" transform="translate(-0.4,-0.4)"/>
<path d="M213.0,234.5 L215.5,238.3" stroke="#b4b4b4" stroke-width="4.7"/><path d="M213.0,234.5 L215.5,238.3" stroke="#ebebeb" stroke-width="3.2"/><path d="M213.0,234.5 L215.5,238.3" stroke="#fdfdfd" stroke-width="1.3" transform="translate(-0.4,-0.4)"/>
<path d="M219.3,232.0 L218.4,242.8" stroke="#7aa9af" stroke-width="4.7"/><path d="M219.3,232.0 L218.4,242.8" stroke="#93c3c8" stroke-width="3.2"/><path d="M219.3,232.0 L218.4,242.8" stroke="#bee0e3" stroke-width="1.3" transform="translate(-0.4,-0.4)"/>
<path d="M218.0,242.3 L222.0,245.3" stroke="#b4b4b4" stroke-width="4.7"/><path d="M218.0,242.3 L222.0,245.3" stroke="#ebebeb" stroke-width="3.2"/><path d="M218.0,242.3 L222.0,245.3" stroke="#fdfdfd" stroke-width="1.3" transform="translate(-0.4,-0.4)"/>
<path d="M221.1,246.5 L215.7,259.1" stroke="#7aa9af" stroke-width="4.7"/><path d="M221.1,246.5 L215.7,259.1" stroke="#93c3c8" stroke-width="3.2"/><path d="M221.1,246.5 L215.7,259.1" stroke="#bee0e3" stroke-width="1.3" transform="translate(-0.4,-0.4)"/>
<path d="M217.0,259.3 L215.3,262.8" stroke="#99292d" stroke-width="4.7"/><path d="M217.0,259.3 L215.3,262.8" stroke="#c0383c" stroke-width="3.2"/><path d="M217.0,259.3 L215.3,262.8" stroke="#d87472" stroke-width="1.3" transform="translate(-0.4,-0.4)"/>
<path d="M216.3,259.3 L214.8,262.5" stroke="#99292d" stroke-width="4.7"/><path d="M216.3,259.3 L214.8,262.5" stroke="#c0383c" stroke-width="3.2"/><path d="M216.3,259.3 L214.8,262.5" stroke="#d87472" stroke-width="1.3" transform="translate(-0.4,-0.4)"/>
<path d="M221.1,246.5 L224.0,248.0" stroke="#7aa9af" stroke-width="4.7"/><path d="M221.1,246.5 L224.0,248.0" stroke="#93c3c8" stroke-width="3.2"/><path d="M221.1,246.5 L224.0,248.0" stroke="#bee0e3" stroke-width="1.3" transform="translate(-0.4,-0.4)"/>
<path d="M224.0,248.0 L230.0,249.8" stroke="#b4b4b4" stroke-width="4.7"/><path d="M224.0,248.0 L230.0,249.8" stroke="#ebebeb" stroke-width="3.2"/><path d="M224.0,248.0 L230.0,249.8" stroke="#fdfdfd" stroke-width="1.3" transform="translate(-0.4,-0.4)"/>
<path d="M225.2,232.3 L226.4,236.0" stroke="#8f8f8f" stroke-width="4.7"/><path d="M225.2,232.3 L226.4,236.0" stroke="#b5b5b5" stroke-width="3.2"/><path d="M225.2,232.3 L226.4,236.0" stroke="#d8d8d8" stroke-width="1.3" transform="translate(-0.4,-0.4)"/>
<path d="M229.8,245.0 L235.0,245.3" stroke="#b4b4b4" stroke-width="4.7"/><path d="M229.8,245.0 L235.0,245.3" stroke="#ebebeb" stroke-width="3.2"/><path d="M229.8,245.0 L235.0,245.3" stroke="#fdfdfd" stroke-width="1.3" transform="translate(-0.4,-0.4)"/>
<path d="M235.0,245.3 L240.0,244.5" stroke="#7aa9af" stroke-width="4.7"/><path d="M235.0,245.3 L240.0,244.5" stroke="#93c3c8" stroke-width="3.2"/><path d="M235.0,245.3 L240.0,244.5" stroke="#bee0e3" stroke-width="1.3" transform="translate(-0.4,-0.4)"/>
<path d="M242.8,232.0 L241.0,241.9" stroke="#7aa9af" stroke-width="4.7"/><path d="M242.8,232.0 L241.0,241.9" stroke="#93c3c8" stroke-width="3.2"/><path d="M242.8,232.0 L241.0,241.9" stroke="#bee0e3" stroke-width="1.3" transform="translate(-0.4,-0.4)"/>
<path d="M239.2,244.6 L241.5,255.9" stroke="#7aa9af" stroke-width="4.7"/><path d="M239.2,244.6 L241.5,255.9" stroke="#93c3c8" stroke-width="3.2"/><path d="M239.2,244.6 L241.5,255.9" stroke="#bee0e3" stroke-width="1.3" transform="translate(-0.4,-0.4)"/>
<path d="M241.5,255.9 L246.0,255.8" stroke="#7aa9af" stroke-width="4.7"/><path d="M241.5,255.9 L246.0,255.8" stroke="#93c3c8" stroke-width="3.2"/><path d="M241.5,255.9 L246.0,255.8" stroke="#bee0e3" stroke-width="1.3" transform="translate(-0.4,-0.4)"/>
<path d="M246.0,255.8 L251.0,256.8" stroke="#99292d" stroke-width="4.7"/><path d="M246.0,255.8 L251.0,256.8" stroke="#c0383c" stroke-width="3.2"/><path d="M246.0,255.8 L251.0,256.8" stroke="#d87472" stroke-width="1.3" transform="translate(-0.4,-0.4)"/>
<path d="M241.5,255.9 L239.0,259.5" stroke="#7aa9af" stroke-width="4.7"/><path d="M241.5,255.9 L239.0,259.5" stroke="#93c3c8" stroke-width="3.2"/><path d="M241.5,255.9 L239.0,259.5" stroke="#bee0e3" stroke-width="1.3" transform="translate(-0.4,-0.4)"/>
<path d="M239.0,259.5 L236.3,262.7" stroke="#99292d" stroke-width="4.7"/><path d="M239.0,259.5 L236.3,262.7" stroke="#c0383c" stroke-width="3.2"/><path d="M239.0,259.5 L236.3,262.7" stroke="#d87472" stroke-width="1.3" transform="translate(-0.4,-0.4)"/>
<path d="M237.0,233.5 L238.3,238.5" stroke="#b4b4b4" stroke-width="4.7"/><path d="M237.0,233.5 L238.3,238.5" stroke="#ebebeb" stroke-width="3.2"/><path d="M237.0,233.5 L238.3,238.5" stroke="#fdfdfd" stroke-width="1.3" transform="translate(-0.4,-0.4)"/>
<path d="M247.8,232.5 L246.8,237.0" stroke="#b4b4b4" stroke-width="4.7"/><path d="M247.8,232.5 L246.8,237.0" stroke="#ebebeb" stroke-width="3.2"/><path d="M247.8,232.5 L246.8,237.0" stroke="#fdfdfd" stroke-width="1.3" transform="translate(-0.4,-0.4)"/>
<path d="M249.5,243.5 L254.5,244.8" stroke="#b4b4b4" stroke-width="4.7"/><path d="M249.5,243.5 L254.5,244.8" stroke="#ebebeb" stroke-width="3.2"/><path d="M249.5,243.5 L254.5,244.8" stroke="#fdfdfd" stroke-width="1.3" transform="translate(-0.4,-0.4)"/>
<path d="M256.7,228.7 L258.0,244.1" stroke="#7aa9af" stroke-width="4.7"/><path d="M256.7,228.7 L258.0,244.1" stroke="#93c3c8" stroke-width="3.2"/><path d="M256.7,228.7 L258.0,244.1" stroke="#bee0e3" stroke-width="1.3" transform="translate(-0.4,-0.4)"/>
<path d="M258.0,245.0 L270.2,245.9" stroke="#7aa9af" stroke-width="4.7"/><path d="M258.0,245.0 L270.2,245.9" stroke="#93c3c8" stroke-width="3.2"/><path d="M258.0,245.0 L270.2,245.9" stroke="#bee0e3" stroke-width="1.3" transform="translate(-0.4,-0.4)"/>
<path d="M270.2,245.9 L272.0,247.3" stroke="#7aa9af" stroke-width="4.7"/><path d="M270.2,245.9 L272.0,247.3" stroke="#93c3c8" stroke-width="3.2"/><path d="M270.2,245.9 L272.0,247.3" stroke="#bee0e3" stroke-width="1.3" transform="translate(-0.4,-0.4)"/>
<path d="M272.0,247.3 L276.0,250.5" stroke="#99292d" stroke-width="4.7"/><path d="M272.0,247.3 L276.0,250.5" stroke="#c0383c" stroke-width="3.2"/><path d="M272.0,247.3 L276.0,250.5" stroke="#d87472" stroke-width="1.3" transform="translate(-0.4,-0.4)"/>
<path d="M265.8,242.5 L266.8,243.0" stroke="#99292d" stroke-width="4.7"/><path d="M265.8,242.5 L266.8,243.0" stroke="#c0383c" stroke-width="3.2"/><path d="M265.8,242.5 L266.8,243.0" stroke="#d87472" stroke-width="1.3" transform="translate(-0.4,-0.4)"/>
<path d="M260.5,244.0 L264.5,242.5" stroke="#b4b4b4" stroke-width="4.7"/><path d="M260.5,244.0 L264.5,242.5" stroke="#ebebeb" stroke-width="3.2"/><path d="M260.5,244.0 L264.5,242.5" stroke="#fdfdfd" stroke-width="1.3" transform="translate(-0.4,-0.4)"/>
<path d="M257.0,245.0 L256.3,249.5" stroke="#7aa9af" stroke-width="4.7"/><path d="M257.0,245.0 L256.3,249.5" stroke="#93c3c8" stroke-width="3.2"/><path d="M257.0,245.0 L256.3,249.5" stroke="#bee0e3" stroke-width="1.3" transform="translate(-0.4,-0.4)"/>
<path d="M256.3,249.5 L255.5,255.0" stroke="#b4b4b4" stroke-width="4.7"/><path d="M256.3,249.5 L255.5,255.0" stroke="#ebebeb" stroke-width="3.2"/><path d="M256.3,249.5 L255.5,255.0" stroke="#fdfdfd" stroke-width="1.3" transform="translate(-0.4,-0.4)"/>
</g>
<rect x="139.7" y="35.6" width="180" height="131.4" fill="url(#cyl)" mask="url(#cylmask)"/>
<g fill="none" stroke-width="1.6" filter="url(#soft2)">
<linearGradient id="cg0" gradientUnits="userSpaceOnUse" x1="57.2" y1="33.3" x2="73.7" y2="39.9"><stop offset="0" stop-color="#e3c6e5"/><stop offset="1" stop-color="#bd7cbf"/></linearGradient>
<line x1="57.2" y1="33.3" x2="73.7" y2="39.9" stroke="url(#cg0)"/>
<linearGradient id="cg1" gradientUnits="userSpaceOnUse" x1="385" y1="31.6" x2="401.3" y2="38.1"><stop offset="0" stop-color="#e3c6e5"/><stop offset="1" stop-color="#bd7cbf"/></linearGradient>
<line x1="385" y1="31.6" x2="401.3" y2="38.1" stroke="url(#cg1)"/>
<linearGradient id="cg2" gradientUnits="userSpaceOnUse" x1="386.4" y1="365.8" x2="402.9" y2="372.6"><stop offset="0" stop-color="#e3c6e5"/><stop offset="1" stop-color="#bd7cbf"/></linearGradient>
<line x1="386.4" y1="365.8" x2="402.9" y2="372.6" stroke="url(#cg2)"/>
<linearGradient id="cg3" gradientUnits="userSpaceOnUse" x1="58.1" y1="367.1" x2="74.6" y2="374.1"><stop offset="0" stop-color="#e3c6e5"/><stop offset="1" stop-color="#bd7cbf"/></linearGradient>
<line x1="58.1" y1="367.1" x2="74.6" y2="374.1" stroke="url(#cg3)"/>
<polygon points="73.7,39.9 401.3,38.1 402.9,372.6 74.6,374.1" stroke="#c68dc8" stroke-width="1.75"/>
</g>
</g>
<g id="formula"><text transform="translate(-1.00,434.70) scale(0.32388,0.31874)" font-family="Liberation Serif, Times New Roman, serif" font-style="italic" font-size="100" fill="#1a1a1a" >C</text>
<text transform="translate(22.80,434.76) scale(0.27255,0.31652)" font-family="Liberation Serif, Times New Roman, serif" font-size="100" fill="#1a1a1a" >(</text>
<text transform="translate(32.47,434.63) scale(0.37956,0.27520)" font-family="Liberation Serif, Times New Roman, serif" font-style="italic" font-size="100" fill="#1a1a1a" >τ</text>
<text transform="translate(49.01,434.76) scale(0.27644,0.31652)" font-family="Liberation Serif, Times New Roman, serif" font-size="100" fill="#1a1a1a" >)</text>
<text transform="translate(66.86,436.20) scale(0.41046,0.28000)" font-family="Liberation Serif, Times New Roman, serif" font-size="100" fill="#1a1a1a" >=</text>
<text transform="translate(93.69,445.65) scale(0.63887,0.60295)" font-family="DejaVu Sans, sans-serif" font-size="100" fill="#1a1a1a" stroke="#fff" stroke-width="4.4">⟨</text>
<text transform="translate(116.00,434.76) scale(0.27255,0.31652)" font-family="Liberation Serif, Times New Roman, serif" font-size="100" fill="#1a1a1a" >(</text>
<text transform="translate(125.02,434.31) scale(0.33179,0.27609)" font-family="Liberation Serif, Times New Roman, serif" font-style="italic" font-size="100" fill="#1a1a1a" >η</text>
<text transform="translate(141.95,434.76) scale(0.28423,0.31652)" font-family="Liberation Serif, Times New Roman, serif" font-size="100" fill="#1a1a1a" >(</text>
<text transform="translate(150.89,434.67) scale(0.36628,0.33348)" font-family="Liberation Serif, Times New Roman, serif" font-style="italic" font-size="100" fill="#1a1a1a" >t</text>
<text transform="translate(167.98,440.54) scale(0.40616,0.40788)" font-family="Liberation Serif, Times New Roman, serif" font-size="100" fill="#1a1a1a" >+</text>
<text transform="translate(197.07,434.63) scale(0.37956,0.27520)" font-family="Liberation Serif, Times New Roman, serif" font-style="italic" font-size="100" fill="#1a1a1a" >τ</text>
<text transform="translate(213.11,434.76) scale(0.27644,0.31652)" font-family="Liberation Serif, Times New Roman, serif" font-size="100" fill="#1a1a1a" >)</text>
<text transform="translate(229.98,436.33) scale(0.38467,0.28110)" font-family="Liberation Serif, Times New Roman, serif" font-size="100" fill="#1a1a1a" >−</text>
<text transform="translate(257.95,434.31) scale(0.32224,0.27609)" font-family="Liberation Serif, Times New Roman, serif" font-style="italic" font-size="100" fill="#1a1a1a" >η</text>
<text transform="translate(274.73,434.76) scale(0.28812,0.31652)" font-family="Liberation Serif, Times New Roman, serif" font-size="100" fill="#1a1a1a" >(</text>
<text transform="translate(284.56,434.67) scale(0.32689,0.33348)" font-family="Liberation Serif, Times New Roman, serif" font-style="italic" font-size="100" fill="#1a1a1a" >t</text>
<text transform="translate(295.38,434.76) scale(0.28423,0.31652)" font-family="Liberation Serif, Times New Roman, serif" font-size="100" fill="#1a1a1a" >)</text>
<text transform="translate(306.48,434.76) scale(0.28423,0.31652)" font-family="Liberation Serif, Times New Roman, serif" font-size="100" fill="#1a1a1a" >)</text>
<text transform="translate(316.95,419.80) scale(0.23947,0.19936)" font-family="Liberation Serif, Times New Roman, serif" font-size="100" fill="#1a1a1a" >2</text>
<text transform="translate(325.92,445.65) scale(0.63434,0.60295)" font-family="DejaVu Sans, sans-serif" font-size="100" fill="#1a1a1a" stroke="#fff" stroke-width="4.4">⟩</text>
<text transform="translate(353.83,436.33) scale(0.37608,0.28110)" font-family="Liberation Serif, Times New Roman, serif" font-size="100" fill="#1a1a1a" >−</text>
<text transform="translate(381.38,437.26) scale(0.32623,0.32898)" font-family="DejaVu Sans, sans-serif" font-size="100" fill="#1a1a1a" stroke="#fff" stroke-width="3.2">⟨</text>
<text transform="translate(392.29,434.31) scale(0.31269,0.27609)" font-family="Liberation Serif, Times New Roman, serif" font-style="italic" font-size="100" fill="#1a1a1a" >η</text>
<text transform="translate(409.15,434.76) scale(0.28423,0.31652)" font-family="Liberation Serif, Times New Roman, serif" font-size="100" fill="#1a1a1a" >(</text>
<text transform="translate(418.65,434.67) scale(0.33083,0.33348)" font-family="Liberation Serif, Times New Roman, serif" font-style="italic" font-size="100" fill="#1a1a1a" >t</text>
<text transform="translate(429.86,434.76) scale(0.29202,0.31652)" font-family="Liberation Serif, Times New Roman, serif" font-size="100" fill="#1a1a1a" >)</text>
<text transform="translate(440.38,422.90) scale(0.23199,0.20691)" font-family="Liberation Serif, Times New Roman, serif" font-size="100" fill="#1a1a1a" >2</text>
<text transform="translate(451.28,437.26) scale(0.33982,0.32898)" font-family="DejaVu Sans, sans-serif" font-size="100" fill="#1a1a1a" stroke="#fff" stroke-width="3.2">⟩</text></g>
<g id="panelB">
<rect x="599.5" y="12.2" width="359.1" height="178.4" stroke="#1a1a1a" stroke-width="2" fill="none"/>
<rect x="599.0" y="205.6" width="359.0" height="187.7" stroke="#1a1a1a" stroke-width="2" fill="none"/>
<path d="M599.2,190.6 v6 M598.6,393.3 v6.3 M685.1,190.6 v6 M684.5,393.3 v6.3 M771.0,190.6 v6 M770.4,393.3 v6.3 M856.9,190.6 v6 M856.3,393.3 v6.3 M942.8,190.6 v6 M942.2,393.3 v6.3 M599.5,27.3 h-6 M599.5,85.4 h-6 M599.5,143.5 h-6 M599.0,275.8 h-6 M599.0,341.8 h-6" stroke="#1a1a1a" stroke-width="1.5" fill="none"/>
<text x="584.3" y="35.0" text-anchor="end" font-family="Liberation Sans, Arial, Helvetica, sans-serif" font-size="23" fill="#1a1a1a" stroke="#1a1a1a" stroke-width="0.35">0.65</text>
<text x="584.3" y="93.1" text-anchor="end" font-family="Liberation Sans, Arial, Helvetica, sans-serif" font-size="23" fill="#1a1a1a" stroke="#1a1a1a" stroke-width="0.35">0.60</text>
<text x="584.3" y="151.2" text-anchor="end" font-family="Liberation Sans, Arial, Helvetica, sans-serif" font-size="23" fill="#1a1a1a" stroke="#1a1a1a" stroke-width="0.35">0.55</text>
<text x="577.5" y="284.5" text-anchor="end" font-family="Liberation Sans, Arial, Helvetica, sans-serif" font-size="23" fill="#1a1a1a" stroke="#1a1a1a" stroke-width="0.35">-0.5</text>
<text x="577.5" y="352.3" text-anchor="end" font-family="Liberation Sans, Arial, Helvetica, sans-serif" font-size="23" fill="#1a1a1a" stroke="#1a1a1a" stroke-width="0.35">-0.6</text>
<text x="600.9" y="428.9" text-anchor="middle" font-family="Liberation Sans, Arial, Helvetica, sans-serif" font-size="22.3" fill="#1a1a1a" stroke="#1a1a1a" stroke-width="0.35">0</text>
<text x="686.3" y="428.9" text-anchor="middle" font-family="Liberation Sans, Arial, Helvetica, sans-serif" font-size="22.3" fill="#1a1a1a" stroke="#1a1a1a" stroke-width="0.35">5</text>
<text x="771.6" y="428.9" text-anchor="middle" font-family="Liberation Sans, Arial, Helvetica, sans-serif" font-size="22.3" fill="#1a1a1a" stroke="#1a1a1a" stroke-width="0.35">10</text>
<text x="857.6" y="428.9" text-anchor="middle" font-family="Liberation Sans, Arial, Helvetica, sans-serif" font-size="22.3" fill="#1a1a1a" stroke="#1a1a1a" stroke-width="0.35">15</text>
<text x="942.2" y="428.9" text-anchor="middle" font-family="Liberation Sans, Arial, Helvetica, sans-serif" font-size="22.3" fill="#1a1a1a" stroke="#1a1a1a" stroke-width="0.35">20</text>
<polyline points="616.1,34.3 633.3,20.3 650.4,31.7 667.6,38.9 684.8,51.7 702.0,74.9 736.3,85.4 770.7,115.3 805.1,132.8 839.4,137.2 873.8,145.4 908.1,170.8 942.5,182.1" fill="none" stroke="#1a1a1a" stroke-width="2.5" stroke-dasharray="8.9 3.7"/>
<circle cx="615.4" cy="236.4" r="6.5" fill="#1a1a1a"/>
<circle cx="632.4" cy="223.8" r="6.5" fill="#1a1a1a"/>
<circle cx="649.7" cy="233.4" r="6.5" fill="#1a1a1a"/>
<circle cx="666.9" cy="239.5" r="6.5" fill="#1a1a1a"/>
<circle cx="684.3" cy="251.4" r="6.5" fill="#1a1a1a"/>
<circle cx="701.1" cy="273.1" r="6.5" fill="#1a1a1a"/>
<circle cx="735.5" cy="282.3" r="6.5" fill="#1a1a1a"/>
<circle cx="770" cy="311.9" r="6.5" fill="#1a1a1a"/>
<circle cx="804.2" cy="329.4" r="6.5" fill="#1a1a1a"/>
<circle cx="838.7" cy="333.9" r="6.5" fill="#1a1a1a"/>
<circle cx="872.9" cy="342.3" r="6.5" fill="#1a1a1a"/>
<circle cx="907.4" cy="369.4" r="6.5" fill="#1a1a1a"/>
<circle cx="941.9" cy="381.6" r="6.5" fill="#1a1a1a"/>
<line x1="613.9" y1="222.8" x2="941.9" y2="382.9" stroke="#bf0d26" stroke-width="5"/>
<g transform="translate(511.8,109.9) rotate(-90)"><text transform="translate(-0.69,0.06) scale(0.24976,0.25917)" font-family="Liberation Serif, Times New Roman, serif" font-style="italic" font-size="100" fill="#1a1a1a" >C</text><text transform="translate(18.41,-0.11) scale(0.22583,0.26358)" font-family="Liberation Serif, Times New Roman, serif" font-size="100" fill="#1a1a1a" >(</text><text transform="translate(26.58,-0.04) scale(0.28126,0.24533)" font-family="Liberation Serif, Times New Roman, serif" font-style="italic" font-size="100" fill="#1a1a1a" >τ</text><text transform="translate(38.67,-0.11) scale(0.22583,0.26358)" font-family="Liberation Serif, Times New Roman, serif" font-size="100" fill="#1a1a1a" >)</text></g>
<g transform="translate(509.7,344.1) rotate(-90)"><text transform="translate(-0.45,0.79) scale(0.22684,0.25064)" font-family="Liberation Serif, Times New Roman, serif" font-size="100" fill="#1a1a1a" >log</text><text transform="translate(31.60,0.16) scale(0.23364,0.25470)" font-family="Liberation Serif, Times New Roman, serif" font-style="italic" font-size="100" fill="#1a1a1a" >C</text><text transform="translate(51.21,-0.00) scale(0.22583,0.25366)" font-family="Liberation Serif, Times New Roman, serif" font-size="100" fill="#1a1a1a" >(</text><text transform="translate(59.28,-0.02) scale(0.28126,0.22400)" font-family="Liberation Serif, Times New Roman, serif" font-style="italic" font-size="100" fill="#1a1a1a" >τ</text><text transform="translate(71.77,-0.00) scale(0.22583,0.25366)" font-family="Liberation Serif, Times New Roman, serif" font-size="100" fill="#1a1a1a" >)</text></g>
<text transform="translate(759.78,457.99) scale(0.23484,0.21333)" font-family="Liberation Serif, Times New Roman, serif" font-style="italic" font-size="100" fill="#1a1a1a" >τ</text><text transform="translate(773.83,457.91) scale(0.19857,0.23932)" font-family="Liberation Serif, Times New Roman, serif" font-size="100" fill="#1a1a1a" >(</text><text transform="translate(780.02,457.99) scale(0.25178,0.21208)" font-family="Liberation Serif, Times New Roman, serif" font-size="100" fill="#1a1a1a" >ns</text><text transform="translate(803.76,457.91) scale(0.19857,0.23932)" font-family="Liberation Serif, Times New Roman, serif" font-size="100" fill="#1a1a1a" >)</text>
<text transform="translate(703.45,237.40) scale(0.22522,0.24075)" font-family="Liberation Serif, Times New Roman, serif" font-size="100" fill="#bf0d26" >log</text><text transform="translate(736.05,237.36) scale(0.24170,0.25619)" font-family="Liberation Serif, Times New Roman, serif" font-style="italic" font-size="100" fill="#bf0d26" >C</text><text transform="translate(754.26,237.28) scale(0.23751,0.25917)" font-family="Liberation Serif, Times New Roman, serif" font-size="100" fill="#bf0d26" >(</text><text transform="translate(762.47,237.18) scale(0.33314,0.22187)" font-family="Liberation Serif, Times New Roman, serif" font-style="italic" font-size="100" fill="#bf0d26" >τ</text><text transform="translate(775.45,237.28) scale(0.23361,0.25917)" font-family="Liberation Serif, Times New Roman, serif" font-size="100" fill="#bf0d26" >)</text><text transform="translate(789.07,239.17) scale(0.32665,0.24000)" font-family="Liberation Serif, Times New Roman, serif" font-size="100" fill="#bf0d26" >=</text><text transform="translate(813.87,239.92) scale(0.30731,0.26102)" font-family="Liberation Serif, Times New Roman, serif" font-size="100" fill="#bf0d26" >−</text><text transform="translate(831.55,237.16) scale(0.22367,0.24293)" font-family="Liberation Serif, Times New Roman, serif" font-size="100" fill="#bf0d26" >0.013</text><text transform="translate(881.19,237.18) scale(0.32495,0.22187)" font-family="Liberation Serif, Times New Roman, serif" font-style="italic" font-size="100" fill="#bf0d26" >τ</text><text transform="translate(899.55,239.92) scale(0.31161,0.26102)" font-family="Liberation Serif, Times New Roman, serif" font-size="100" fill="#bf0d26" >−</text><text transform="translate(921.92,237.16) scale(0.23071,0.24293)" font-family="Liberation Serif, Times New Roman, serif" font-size="100" fill="#bf0d26" >0.4</text>
</g>
<g id="panelC">
<path d="M1092.6,14 V389.9 H1550" stroke="#1a1a1a" stroke-width="1.75" fill="none"/>
<path d="M1092.6,389.9 h-5.2 M1092.6,341.3 h-5.2 M1092.6,292.7 h-5.2 M1092.6,244.2 h-5.2 M1092.6,195.6 h-5.2 M1092.6,147.0 h-5.2 M1092.6,98.4 h-5.2 M1092.6,49.8 h-5.2 M1136.3,389.9 v5.2 M1201.6,389.9 v5.2 M1266.9,389.9 v5.2 M1332.2,389.9 v5.2 M1397.5,389.9 v5.2 M1462.8,389.9 v5.2 M1528.1,389.9 v5.2" stroke="#1a1a1a" stroke-width="1.5" fill="none"/>
<text x="1080.4" y="395.7" text-anchor="end" font-family="Liberation Sans, Arial, Helvetica, sans-serif" font-size="23" fill="#1a1a1a" stroke="#1a1a1a" stroke-width="0.35">0</text>
<text x="1080.4" y="347.1" text-anchor="end" font-family="Liberation Sans, Arial, Helvetica, sans-serif" font-size="23" fill="#1a1a1a" stroke="#1a1a1a" stroke-width="0.35">0.2</text>
<text x="1080.4" y="298.5" text-anchor="end" font-family="Liberation Sans, Arial, Helvetica, sans-serif" font-size="23" fill="#1a1a1a" stroke="#1a1a1a" stroke-width="0.35">0.4</text>
<text x="1080.4" y="250.0" text-anchor="end" font-family="Liberation Sans, Arial, Helvetica, sans-serif" font-size="23" fill="#1a1a1a" stroke="#1a1a1a" stroke-width="0.35">0.6</text>
<text x="1080.4" y="201.4" text-anchor="end" font-family="Liberation Sans, Arial, Helvetica, sans-serif" font-size="23" fill="#1a1a1a" stroke="#1a1a1a" stroke-width="0.35">0.8</text>
<text x="1080.4" y="152.8" text-anchor="end" font-family="Liberation Sans, Arial, Helvetica, sans-serif" font-size="23" fill="#1a1a1a" stroke="#1a1a1a" stroke-width="0.35">1.0</text>
<text x="1080.4" y="104.2" text-anchor="end" font-family="Liberation Sans, Arial, Helvetica, sans-serif" font-size="23" fill="#1a1a1a" stroke="#1a1a1a" stroke-width="0.35">1.2</text>
<text x="1080.4" y="55.6" text-anchor="end" font-family="Liberation Sans, Arial, Helvetica, sans-serif" font-size="23" fill="#1a1a1a" stroke="#1a1a1a" stroke-width="0.35">1.4</text>
<text x="1131.0" y="425.9" text-anchor="middle" font-family="Liberation Sans, Arial, Helvetica, sans-serif" font-size="23" fill="#1a1a1a" stroke="#1a1a1a" stroke-width="0.35">e-06</text>
<text x="1197.1" y="425.9" text-anchor="middle" font-family="Liberation Sans, Arial, Helvetica, sans-serif" font-size="23" fill="#1a1a1a" stroke="#1a1a1a" stroke-width="0.35">e-07</text>
<text x="1263.1" y="425.9" text-anchor="middle" font-family="Liberation Sans, Arial, Helvetica, sans-serif" font-size="23" fill="#1a1a1a" stroke="#1a1a1a" stroke-width="0.35">e-08</text>
<text x="1329.2" y="425.9" text-anchor="middle" font-family="Liberation Sans, Arial, Helvetica, sans-serif" font-size="23" fill="#1a1a1a" stroke="#1a1a1a" stroke-width="0.35">e-09</text>
<text x="1395.3" y="425.9" text-anchor="middle" font-family="Liberation Sans, Arial, Helvetica, sans-serif" font-size="23" fill="#1a1a1a" stroke="#1a1a1a" stroke-width="0.35">e-10</text>
<text x="1461.3" y="425.9" text-anchor="middle" font-family="Liberation Sans, Arial, Helvetica, sans-serif" font-size="23" fill="#1a1a1a" stroke="#1a1a1a" stroke-width="0.35">e-11</text>
<text x="1527.4" y="425.9" text-anchor="middle" font-family="Liberation Sans, Arial, Helvetica, sans-serif" font-size="23" fill="#1a1a1a" stroke="#1a1a1a" stroke-width="0.35">e-12</text>
<text x="1315.8" y="460" text-anchor="middle" font-family="Liberation Sans, Arial, Helvetica, sans-serif" font-size="22.5" fill="#1a1a1a" stroke="#1a1a1a" stroke-width="0.35">Exit Point Probability</text>
<g transform="translate(1020.4,229.8) rotate(-90)"><text transform="translate(-2.89,2.68) scale(0.26733,0.26723)" font-family="DejaVu Sans, sans-serif" font-size="100" fill="#1a1a1a" stroke="#fff" stroke-width="3.4">⟨</text><text transform="translate(5.52,-0.01) scale(0.24586,0.22058)" font-family="Liberation Serif, Times New Roman, serif" font-style="italic" font-size="100" fill="#1a1a1a" >η</text><text transform="translate(16.39,2.68) scale(0.27639,0.26723)" font-family="DejaVu Sans, sans-serif" font-size="100" fill="#1a1a1a" stroke="#fff" stroke-width="3.4">⟩</text></g>
<rect x="1129.05" y="313.4" width="7.85" height="75.9" fill="#40499b"/>
<rect x="1186.50" y="211.8" width="7.85" height="177.5" fill="#b1b1b1"/>
<rect x="1194.35" y="254.8" width="7.85" height="134.5" fill="#40499b"/>
<rect x="1251.80" y="174.1" width="7.85" height="215.2" fill="#b1b1b1"/>
<rect x="1259.65" y="141.1" width="7.85" height="248.2" fill="#40499b"/>
<rect x="1309.25" y="76.1" width="7.85" height="313.2" fill="#6ab4b9"/>
<rect x="1317.10" y="118.9" width="7.85" height="270.4" fill="#b1b1b1"/>
<rect x="1324.95" y="149.3" width="7.85" height="240.0" fill="#40499b"/>
<rect x="1374.55" y="115.5" width="7.85" height="273.8" fill="#6ab4b9"/>
<rect x="1382.40" y="110.4" width="7.85" height="278.9" fill="#b1b1b1"/>
<rect x="1390.25" y="166.1" width="7.85" height="223.2" fill="#40499b"/>
<rect x="1439.85" y="133.6" width="7.85" height="255.7" fill="#6ab4b9"/>
<rect x="1447.70" y="75.2" width="7.85" height="314.1" fill="#b1b1b1"/>
<rect x="1455.55" y="114.0" width="7.85" height="275.3" fill="#40499b"/>
<rect x="1505.15" y="133.6" width="7.85" height="255.7" fill="#6ab4b9"/>
<rect x="1513.00" y="70.4" width="7.85" height="318.9" fill="#b1b1b1"/>
<rect x="1520.85" y="88.5" width="7.85" height="300.8" fill="#40499b"/>
<path d="M1132.98,300.2 V327.0 M1190.42,185.6 V237.4 M1198.28,240.4 V269.2 M1255.72,153.4 V193.7 M1263.58,133.4 V148.5 M1313.18,55.0 V96.3 M1321.03,110.4 V126.4 M1328.88,144.1 V154.7 M1378.48,108.3 V122.8 M1386.33,106.2 V114.3 M1394.18,162.8 V169.4 M1443.78,129.7 V137.5 M1451.62,71.9 V78.2 M1459.48,111.9 V116.4 M1509.08,131.5 V135.7 M1516.92,69.2 V71.6 M1524.78,87.3 V89.7" stroke="#1a1a1a" stroke-width="1.6" fill="none"/>
<line x1="1092.6" y1="33.2" x2="1550" y2="33.2" stroke="#c8102c" stroke-width="1.65"/>
<line x1="1112" y1="68.7" x2="1143.3" y2="68.7" stroke="#c8102c" stroke-width="1.65"/>
<text x="1155" y="74.4" font-family="DejaVu Sans, Liberation Sans, sans-serif" font-size="15.25" fill="#1a1a1a" stroke="#1a1a1a" stroke-width="0.2">Avg</text>
<rect x="1112.5" y="86.2" width="30.6" height="10.5" fill="#6ab4b9"/>
<text x="1155" y="96.5" font-family="DejaVu Sans, Liberation Sans, sans-serif" font-size="15.25" fill="#1a1a1a" stroke="#1a1a1a" stroke-width="0.2">OAG6 - 2018</text>
<rect x="1112.5" y="108.2" width="30.6" height="10.5" fill="#b1b1b1"/>
<text x="1155" y="118.5" font-family="DejaVu Sans, Liberation Sans, sans-serif" font-size="15.25" fill="#1a1a1a" stroke="#1a1a1a" stroke-width="0.2">OAG6 - 2020</text>
<rect x="1112.5" y="130.2" width="30.6" height="10.5" fill="#40499b"/>
<text x="1155" y="140.5" font-family="DejaVu Sans, Liberation Sans, sans-serif" font-size="15.25" fill="#1a1a1a" stroke="#1a1a1a" stroke-width="0.2">OAG3</text>
</g>
</svg>
</body></html>
